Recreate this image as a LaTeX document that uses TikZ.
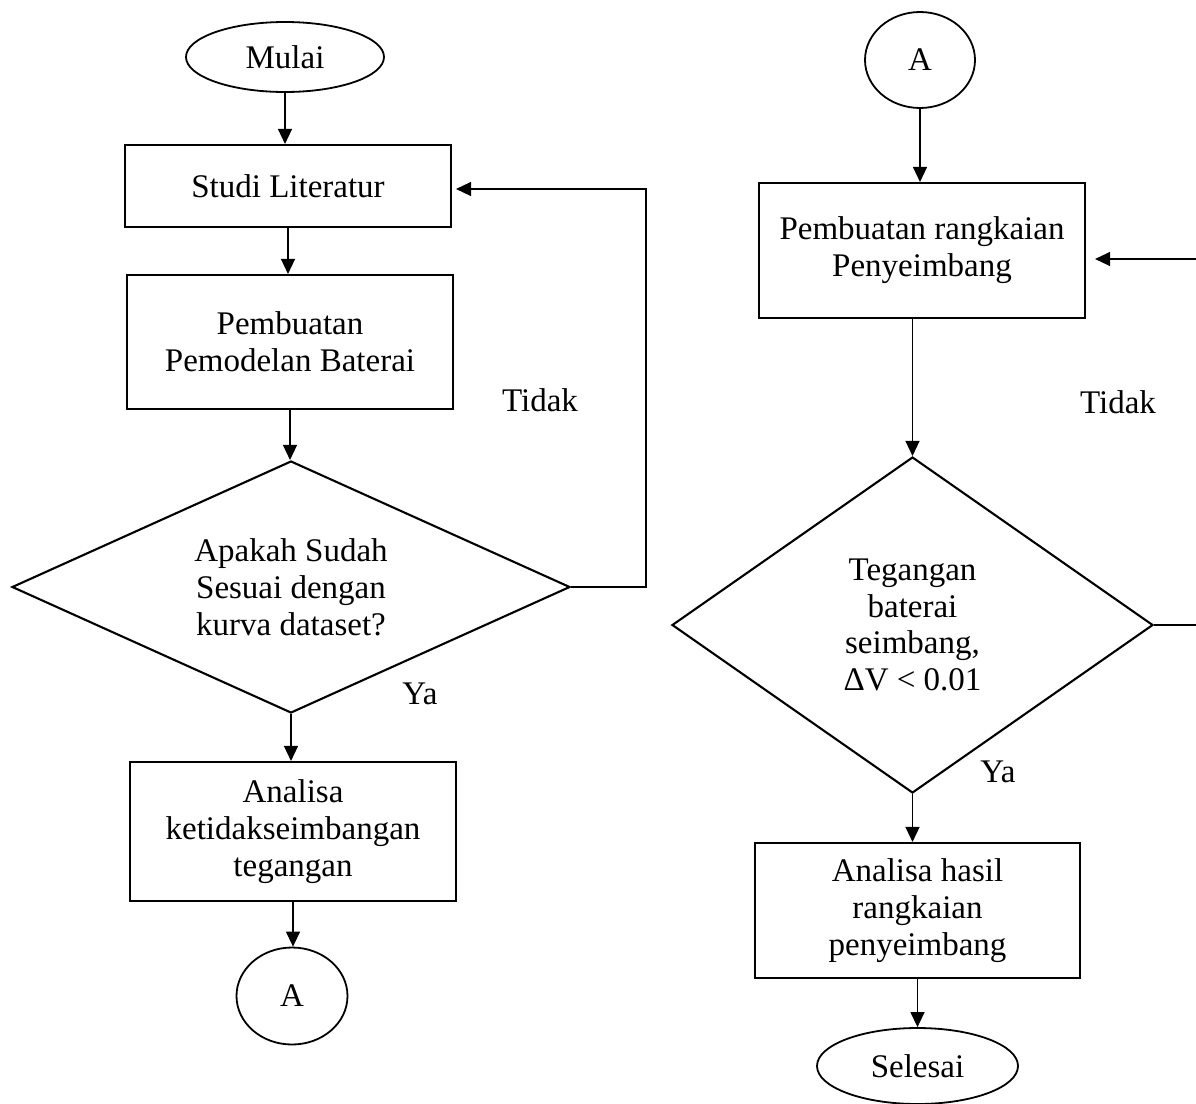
\documentclass[tikz,border=0pt]{standalone}
\usepackage{fontspec}
\setmainfont{Liberation Serif}
\usetikzlibrary{shapes.geometric,arrows.meta}
\begin{document}
\begin{tikzpicture}[x=1pt,y=-1pt,
  txt/.style={font=\fontsize{33pt}{36.8pt}\selectfont, align=center, inner sep=0pt},
  procbox/.style={txt, draw, rectangle, line width=2.1pt},
  termin/.style={txt, draw, ellipse, line width=1.8pt},
  decis/.style={txt, draw, diamond, line width=2.1pt},
  conn/.style={line width=1.3pt},
  arr/.style={conn, -{Triangle[length=15pt,width=14pt]}},
  lbl/.style={txt}
]
\useasboundingbox (0,0) rectangle (1196,1103);
% left column
\node[termin, minimum width=198pt, minimum height=70pt] (mulai) at (285,57) {Mulai};
\node[procbox, minimum width=326pt, minimum height=82pt] (s1) at (288,186) {Studi Literatur};
\node[procbox, minimum width=326pt, minimum height=134pt] (p1) at (290,342) {Pembuatan\\Pemodelan Baterai};
\node[decis, aspect=2.21, minimum width=558pt, minimum height=252pt] (d1) at (291,587) {Apakah Sudah\\Sesuai dengan\\kurva dataset?};
\node[procbox, minimum width=326pt, minimum height=139pt] (a1) at (293,831.5) {Analisa\\ketidakseimbangan\\tegangan};
\node[termin, minimum width=111pt, minimum height=97pt] (c1) at (292,996) {A};
\node[lbl] (t1) at (540,400) {Tidak};
\node[lbl] (y1) at (420,694) {Ya};
% right column
\node[termin, minimum width=110pt, minimum height=96pt] (c2) at (920,60) {A};
\node[procbox, minimum width=326pt, minimum height=135pt] (p2) at (922,250.5) {Pembuatan rangkaian\\Penyeimbang};
\node[decis, aspect=1.43, minimum width=481pt, minimum height=336pt] (d2) at (912.5,625) {Tegangan\\baterai\\seimbang,\\ΔV < 0.01};
\node[procbox, minimum width=325pt, minimum height=135pt] (a2) at (917.5,910.5) {Analisa hasil\\rangkaian\\penyeimbang};
\node[termin, minimum width=201pt, minimum height=76pt] (sel) at (917.5,1066) {Selesai};
\node[lbl] (t2) at (1118,402) {Tidak};
\node[lbl] (y2) at (998,772) {Ya};
\coordinate (rin) at (1196,259);
\coordinate (rout) at (1196,625);
% connectors left
\draw[arr] (mulai.south) -- (mulai.south |- s1.north);
\draw[arr] (s1.south) -- (s1.south |- p1.north);
\draw[arr] (p1.south) -- (p1.south |- d1.north);
\draw[arr] (d1.south) -- (d1.south |- a1.north);
\draw[arr] (a1.south) -- (a1.south |- c1.north);
\draw[arr] (d1.east) -- ++(75,0) |- ([xshift=4pt,yshift=-3pt]s1.east);
% connectors right
\draw[arr] (c2.south) -- (c2.south |- p2.north);
\draw[arr] (d2.north |- p2.south) -- (d2.north);
\draw[arr] (d2.south) -- (d2.south |- a2.north);
\draw[arr] (a2.south) -- (a2.south |- sel.north);
\draw[arr, shorten >=9pt] (rin) -- (p2.east |- rin);
\draw[conn] (d2.east) -- (rout);
\end{tikzpicture}
\end{document}
